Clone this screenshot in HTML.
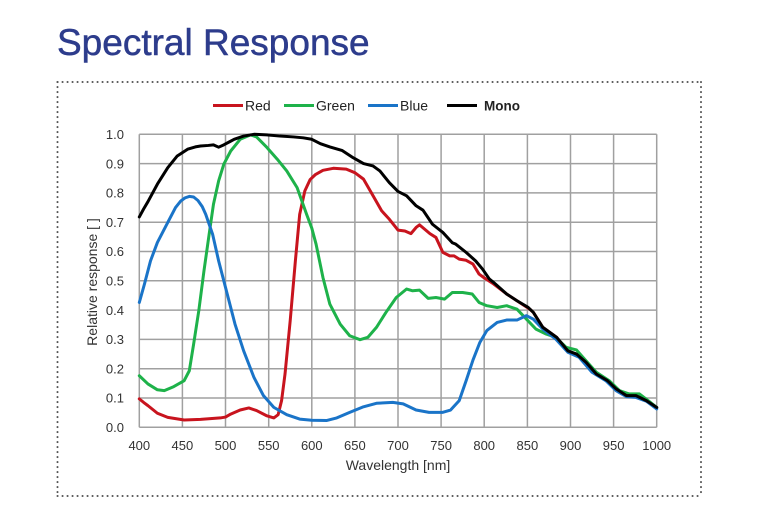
<!DOCTYPE html>
<html>
<head>
<meta charset="utf-8">
<style>
html,body{margin:0;padding:0;background:#fff;}
svg{display:block;}
text{font-family:"Liberation Sans",Arial,sans-serif;}
</style>
</head>
<body>
<svg width="760" height="518" viewBox="0 0 760 518" xmlns="http://www.w3.org/2000/svg">
<rect width="760" height="518" fill="#fff"/>
<text x="57" y="55" font-size="37" fill="#2d3c8c" stroke="#2d3c8c" stroke-width="0.5">Spectral Response</text>

<!-- dotted frame -->
<g stroke="#555" stroke-width="2" stroke-dasharray="0.1 4.9" stroke-linecap="round" fill="none">
<line x1="57.5" y1="82" x2="701" y2="82"/>
<line x1="57.5" y1="496" x2="701" y2="496"/>
<line x1="57.5" y1="82" x2="57.5" y2="496"/>
<line x1="701" y1="82" x2="701" y2="496"/>
</g>

<!-- legend -->
<g stroke-width="3">
<line x1="213" y1="105.5" x2="243" y2="105.5" stroke="#c8141e"/>
<line x1="284" y1="105.5" x2="314" y2="105.5" stroke="#1eb24a"/>
<line x1="368" y1="105.5" x2="398" y2="105.5" stroke="#1a74c8"/>
<line x1="447" y1="105.5" x2="477" y2="105.5" stroke="#000"/>
</g>
<g font-size="14" fill="#222">
<text x="245" y="110.5">Red</text>
<text x="316" y="110.5">Green</text>
<text x="400" y="110.5">Blue</text>
<text x="484" y="110.5" font-weight="bold" font-size="13.5">Mono</text>
</g>

<!-- grid -->
<g stroke="#a0a0a0" stroke-width="1.5" fill="none">
<line x1="139.3" y1="134.3" x2="139.3" y2="427.3"/>
<line x1="182.4" y1="134.3" x2="182.4" y2="427.3"/>
<line x1="225.5" y1="134.3" x2="225.5" y2="427.3"/>
<line x1="268.7" y1="134.3" x2="268.7" y2="427.3"/>
<line x1="311.8" y1="134.3" x2="311.8" y2="427.3"/>
<line x1="354.9" y1="134.3" x2="354.9" y2="427.3"/>
<line x1="398" y1="134.3" x2="398" y2="427.3"/>
<line x1="441.1" y1="134.3" x2="441.1" y2="427.3"/>
<line x1="484.2" y1="134.3" x2="484.2" y2="427.3"/>
<line x1="527.4" y1="134.3" x2="527.4" y2="427.3"/>
<line x1="570.5" y1="134.3" x2="570.5" y2="427.3"/>
<line x1="613.6" y1="134.3" x2="613.6" y2="427.3"/>
<line x1="656.7" y1="134.3" x2="656.7" y2="427.3"/>
<line x1="139.3" y1="134.3" x2="656.7" y2="134.3"/>
<line x1="139.3" y1="163.6" x2="656.7" y2="163.6"/>
<line x1="139.3" y1="192.9" x2="656.7" y2="192.9"/>
<line x1="139.3" y1="222.2" x2="656.7" y2="222.2"/>
<line x1="139.3" y1="251.5" x2="656.7" y2="251.5"/>
<line x1="139.3" y1="280.8" x2="656.7" y2="280.8"/>
<line x1="139.3" y1="310.1" x2="656.7" y2="310.1"/>
<line x1="139.3" y1="339.4" x2="656.7" y2="339.4"/>
<line x1="139.3" y1="368.7" x2="656.7" y2="368.7"/>
<line x1="139.3" y1="398" x2="656.7" y2="398"/>
<line x1="139.3" y1="427.3" x2="656.7" y2="427.3"/>
</g>

<!-- y tick labels -->
<g font-size="13" fill="#333" text-anchor="end">
<text x="124" y="139">1.0</text>
<text x="124" y="168.3">0.9</text>
<text x="124" y="197.6">0.8</text>
<text x="124" y="226.9">0.7</text>
<text x="124" y="256.2">0.6</text>
<text x="124" y="285.5">0.5</text>
<text x="124" y="314.8">0.4</text>
<text x="124" y="344.1">0.3</text>
<text x="124" y="373.4">0.2</text>
<text x="124" y="402.7">0.1</text>
<text x="124" y="432">0.0</text>
</g>
<!-- x tick labels -->
<g font-size="13" fill="#333" text-anchor="middle">
<text x="139.3" y="450">400</text>
<text x="182.4" y="450">450</text>
<text x="225.5" y="450">500</text>
<text x="268.7" y="450">550</text>
<text x="311.8" y="450">600</text>
<text x="354.9" y="450">650</text>
<text x="398" y="450">700</text>
<text x="441.1" y="450">750</text>
<text x="484.2" y="450">800</text>
<text x="527.4" y="450">850</text>
<text x="570.5" y="450">900</text>
<text x="613.6" y="450">950</text>
<text x="656.7" y="450">1000</text>
</g>
<text x="398" y="470" font-size="14" fill="#333" text-anchor="middle">Wavelength [nm]</text>
<text transform="translate(97,282) rotate(-90)" font-size="14" fill="#333" text-anchor="middle">Relative response [ ]</text>

<!-- series -->
<g transform="matrix(0.8623,0,0,-293,-205.62,427.3)" fill="none" stroke-width="3" stroke-linejoin="round" stroke-linecap="round">
<polyline vector-effect="non-scaling-stroke" stroke="#c8141e" points="400,0.097 405,0.085 410,0.074 421,0.048 433,0.034 452,0.025 471,0.027 494,0.032 500,0.035 506,0.045 517,0.059 527,0.066 536,0.057 548,0.039 556,0.032 561,0.043 565,0.091 569,0.182 575,0.364 581,0.568 586,0.727 592,0.807 598,0.845 604,0.862 613,0.877 625,0.884 640,0.881 650,0.869 660,0.847 669,0.801 681,0.739 690,0.71 700,0.673 708,0.67 715,0.661 721,0.682 725,0.691 731,0.676 737,0.661 744,0.648 752,0.597 760,0.585 765,0.585 771,0.574 779,0.57 787,0.557 794,0.523 800,0.51 811,0.489 826,0.455 841,0.426 853,0.403 857,0.392 868,0.341 884,0.307 897,0.258 907,0.25 918,0.222 930,0.182 943,0.159 953,0.131 965,0.108 976,0.106 988,0.09 1000,0.066"/>
<polyline vector-effect="non-scaling-stroke" stroke="#1eb24a" points="400,0.176 410,0.148 421,0.128 429,0.125 440,0.139 452,0.159 458,0.193 463,0.284 469,0.398 475,0.534 481,0.659 486,0.761 492,0.841 498,0.898 506,0.943 517,0.983 529,0.998 536,0.991 548,0.955 560,0.915 571,0.875 583,0.818 594,0.727 600,0.68 605,0.625 613,0.511 621,0.42 633,0.352 644,0.3125 656,0.299 665,0.307 675,0.341 686,0.392 698,0.443 710,0.472 717,0.466 725,0.468 735,0.44 744,0.443 754,0.4375 763,0.46 775,0.46 786,0.455 794,0.426 803,0.415 815,0.409 826,0.415 838,0.403 849,0.369 860,0.335 872,0.318 883,0.307 895,0.273 907,0.264 918,0.227 930,0.188 945,0.159 957,0.125 968,0.114 980,0.114 991,0.089 1000,0.068"/>
<polyline vector-effect="non-scaling-stroke" stroke="#1a74c8" points="400,0.426 406,0.489 413,0.568 421,0.631 433,0.699 442,0.75 448,0.772 453,0.783 458,0.788 463,0.786 468,0.774 473,0.753 477,0.727 485,0.659 492,0.568 502,0.4545 511,0.352 521,0.261 533,0.17 544,0.108 556,0.068 571,0.043 586,0.028 600,0.024 617,0.023 629,0.032 644,0.051 660,0.07 675,0.082 694,0.085 706,0.08 721,0.059 736,0.051 752,0.051 761,0.059 771,0.091 779,0.159 787,0.23 795,0.29 803,0.33 815,0.358 826,0.366 838,0.366 849,0.381 857,0.369 868,0.335 883,0.301 897,0.256 910,0.239 925,0.188 941,0.159 953,0.125 965,0.1045 976,0.102 988,0.089 1000,0.0625"/>
<polyline vector-effect="non-scaling-stroke" stroke="#000" points="400,0.718 405,0.745 410,0.77 421,0.83 433,0.886 444,0.926 456,0.949 465,0.957 471,0.96 480,0.962 486,0.964 492,0.956 498,0.964 505,0.975 510,0.983 521,0.994 533,1.0 548,0.998 563,0.994 579,0.991 590,0.988 600,0.983 610,0.968 621,0.957 635,0.945 648,0.92 660,0.9 671,0.892 679,0.875 690,0.835 700,0.805 710,0.79 721,0.756 729,0.741 740,0.693 752,0.665 763,0.63 767,0.625 779,0.597 790,0.568 798,0.54 806,0.506 811,0.494 826,0.455 838,0.432 851,0.409 857,0.392 868,0.341 884,0.307 897,0.261 907,0.25 918,0.222 930,0.182 943,0.159 953,0.131 965,0.108 976,0.108 988,0.091 1000,0.068"/>
</g>
</svg>
</body>
</html>
